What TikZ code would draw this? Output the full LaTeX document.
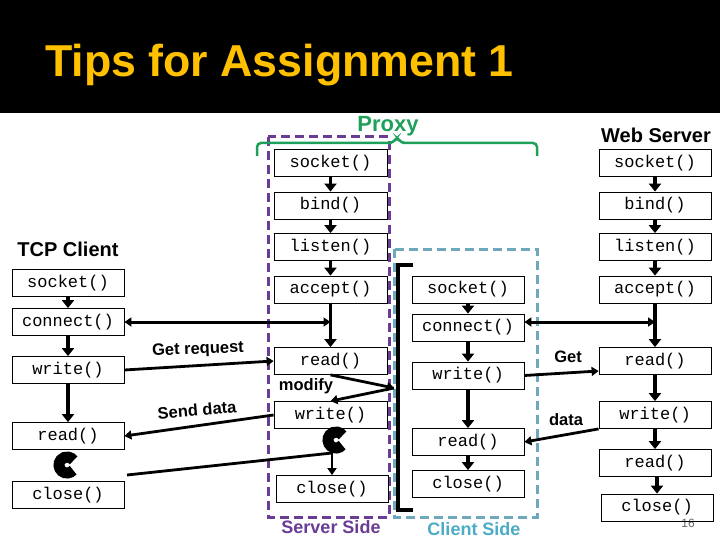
\documentclass[tikz,border=0pt]{standalone}
\usepackage{fontspec}
\setmainfont{Liberation Sans}
\newfontfamily\mono{Liberation Mono}
\usetikzlibrary{arrows.meta}
\definecolor{titley}{RGB}{255,192,0}
\definecolor{proxyg}{RGB}{30,160,90}
\definecolor{servp}{RGB}{106,60,150}
\definecolor{clientt}{RGB}{110,168,188}
\definecolor{clienttxt}{RGB}{75,172,198}
\begin{document}
\begin{tikzpicture}[x=1pt,y=-1pt,
  box/.style={draw, line width=0.8pt, minimum width=112pt, minimum height=27pt, inner sep=0pt, font=\mono\fontsize{17}{17}\selectfont},
  arr/.style={line width=3.8pt, -{Triangle[length=8pt,width=12pt]}},
  thinarr/.style={line width=2.8pt, -{Triangle[length=7pt,width=9pt]}},
  harr/.style={line width=3pt, {Triangle[length=7pt,width=9pt]}-{Triangle[length=7pt,width=9pt]}},
  lbl/.style={font=\bfseries\fontsize{16.5}{16.5}\selectfont, inner sep=0pt},
  head/.style={font=\bfseries\fontsize{20}{20}\selectfont, inner sep=0pt},
  loopc/.style={line width=11pt}
]
\useasboundingbox (0,0) rectangle (720,540);
\fill[black] (0,0) rectangle (720,113);
\node[anchor=base west, text=titley, font=\bfseries\fontsize{44.7}{44.7}\selectfont, inner sep=0pt] (title) at (45,77) {Tips for Assignment 1};

% group frames
\draw[servp, line width=3pt, dash pattern=on 9pt off 5pt] (268,137) rectangle (389,517);
\draw[clientt, line width=3pt, dash pattern=on 9pt off 5pt] (394,249) rectangle (537,517);
\draw[proxyg, line width=2.5pt, rounded corners=4pt] (257,156) -- (257,143) -- (393,143) -- (397,137) -- (401,143) -- (537,143) -- (537,156);
\draw[line width=4pt] (413,265) -- (398,265) -- (398,510) -- (413,510);

% headings
\node[head] (tcpc) at (68,249) {TCP Client};
\node[head] (webs) at (656,135) {Web Server};
\node[font=\bfseries\fontsize{22}{22}\selectfont, text=proxyg, inner sep=0pt] (proxy) at (388,126) {Proxy};
\node[font=\bfseries\fontsize{18}{18}\selectfont, text=servp, inner sep=0pt] (sside) at (331,527) {Server Side};
\node[font=\bfseries\fontsize{18}{18}\selectfont, text=clienttxt, inner sep=0pt] (cside) at (474,529) {Client Side};
\node[font=\fontsize{12}{12}\selectfont, text=black!60, inner sep=0pt] (pg) at (688,523) {16};

% TCP client
\node[box] (csock) at (68,283) {socket()};
\node[box] (cconn) at (68,322) {connect()};
\node[box] (cwrite) at (68,370) {write()};
\node[box] (cread) at (68,436) {read()};
\node[box] (cclose) at (68,495) {close()};

% proxy server side
\node[box, minimum width=113pt] (psock) at (330.5,163) {socket()};
\node[box, minimum width=113pt] (pbind) at (330.5,205.5) {bind()};
\node[box, minimum width=113pt] (plisten) at (330.5,247) {listen()};
\node[box, minimum width=113pt] (paccept) at (330.5,289.5) {accept()};
\node[box, minimum width=113pt] (pread) at (330.5,361) {read()};
\node[box, minimum width=113pt] (pwrite) at (330.5,415) {write()};
\node[box] (pclose) at (332,489) {close()};

% proxy client side
\node[box] (qsock) at (468,289.5) {socket()};
\node[box] (qconn) at (468,327.5) {connect()};
\node[box] (qwrite) at (468,375.5) {write()};
\node[box] (qread) at (468,442) {read()};
\node[box] (qclose) at (468,484) {close()};

% web server
\node[box] (wsock) at (655,163) {socket()};
\node[box] (wbind) at (655,205.5) {bind()};
\node[box] (wlisten) at (655,247) {listen()};
\node[box] (waccept) at (655,289.5) {accept()};
\node[box] (wread) at (655,361) {read()};
\node[box] (wwrite) at (655,415) {write()};
\node[box] (wread2) at (655,463) {read()};
\node[box] (wclose) at (657,507.5) {close()};

% vertical flow
\draw[arr] (csock) -- (cconn);
\draw[arr] (cconn) -- (cwrite);
\draw[arr] (cwrite) -- (cread);
\draw[arr] (psock) -- (pbind);
\draw[arr] (pbind) -- (plisten);
\draw[arr] (plisten) -- (paccept);
\draw[arr] (paccept) -- (pread);
\draw[arr] (qsock) -- (qconn);
\draw[arr] (qconn) -- (qwrite);
\draw[arr] (qwrite) -- (qread);
\draw[arr] (qread) -- (qclose);
\draw[arr] (wsock) -- (wbind);
\draw[arr] (wbind) -- (wlisten);
\draw[arr] (wlisten) -- (waccept);
\draw[arr] (waccept) -- (wread);
\draw[arr] (wread) -- (wwrite);
\draw[arr] (wwrite) -- (wread2);
\draw[arr] (wread2.south -| wclose.north) -- (wclose.north);

% connections
\coordinate (pacc) at (paccept.south |- cconn.east);
\draw[harr] (cconn.east) -- (pacc);
\coordinate (wacc) at (waccept.south |- cconn.east);
\draw[harr] ([yshift=5.5pt]qconn.east) -- (wacc);

\draw[thinarr] (cwrite.east) -- (pread.west);
\node[lbl, rotate=2] (getreq) at (198,350) {Get request};
\draw[thinarr] (pwrite.west) -- (cread.east);
\node[lbl, rotate=5] (senddata) at (197,410) {Send data};

\coordinate (mod) at (394,388);
\draw[thinarr] (pread.south) -- (mod);
\draw[thinarr] (mod) -- (pwrite.north);
\node[lbl] (modify) at (306,386) {modify};

\coordinate (cl) at (127,475);
\coordinate (pj) at (pclose.north |- 0,453);
\draw[line width=2.8pt] (cl) -- (pj);
\draw[thinarr] (pj) -- (pclose.north);

\draw[thinarr] (qwrite.east) -- ([yshift=-10pt]wread.west);
\node[lbl] (get) at (568,357) {Get};
\draw[thinarr] (wwrite.south west) -- (qread.east);
\node[lbl] (data) at (566,420) {data};

% wait loops
\draw[loopc] (67,465) ++(40:8) arc[start angle=40, end angle=325, radius=8];
\draw[loopc] (336,440) ++(40:8) arc[start angle=40, end angle=325, radius=8];
\end{tikzpicture}
\end{document}
